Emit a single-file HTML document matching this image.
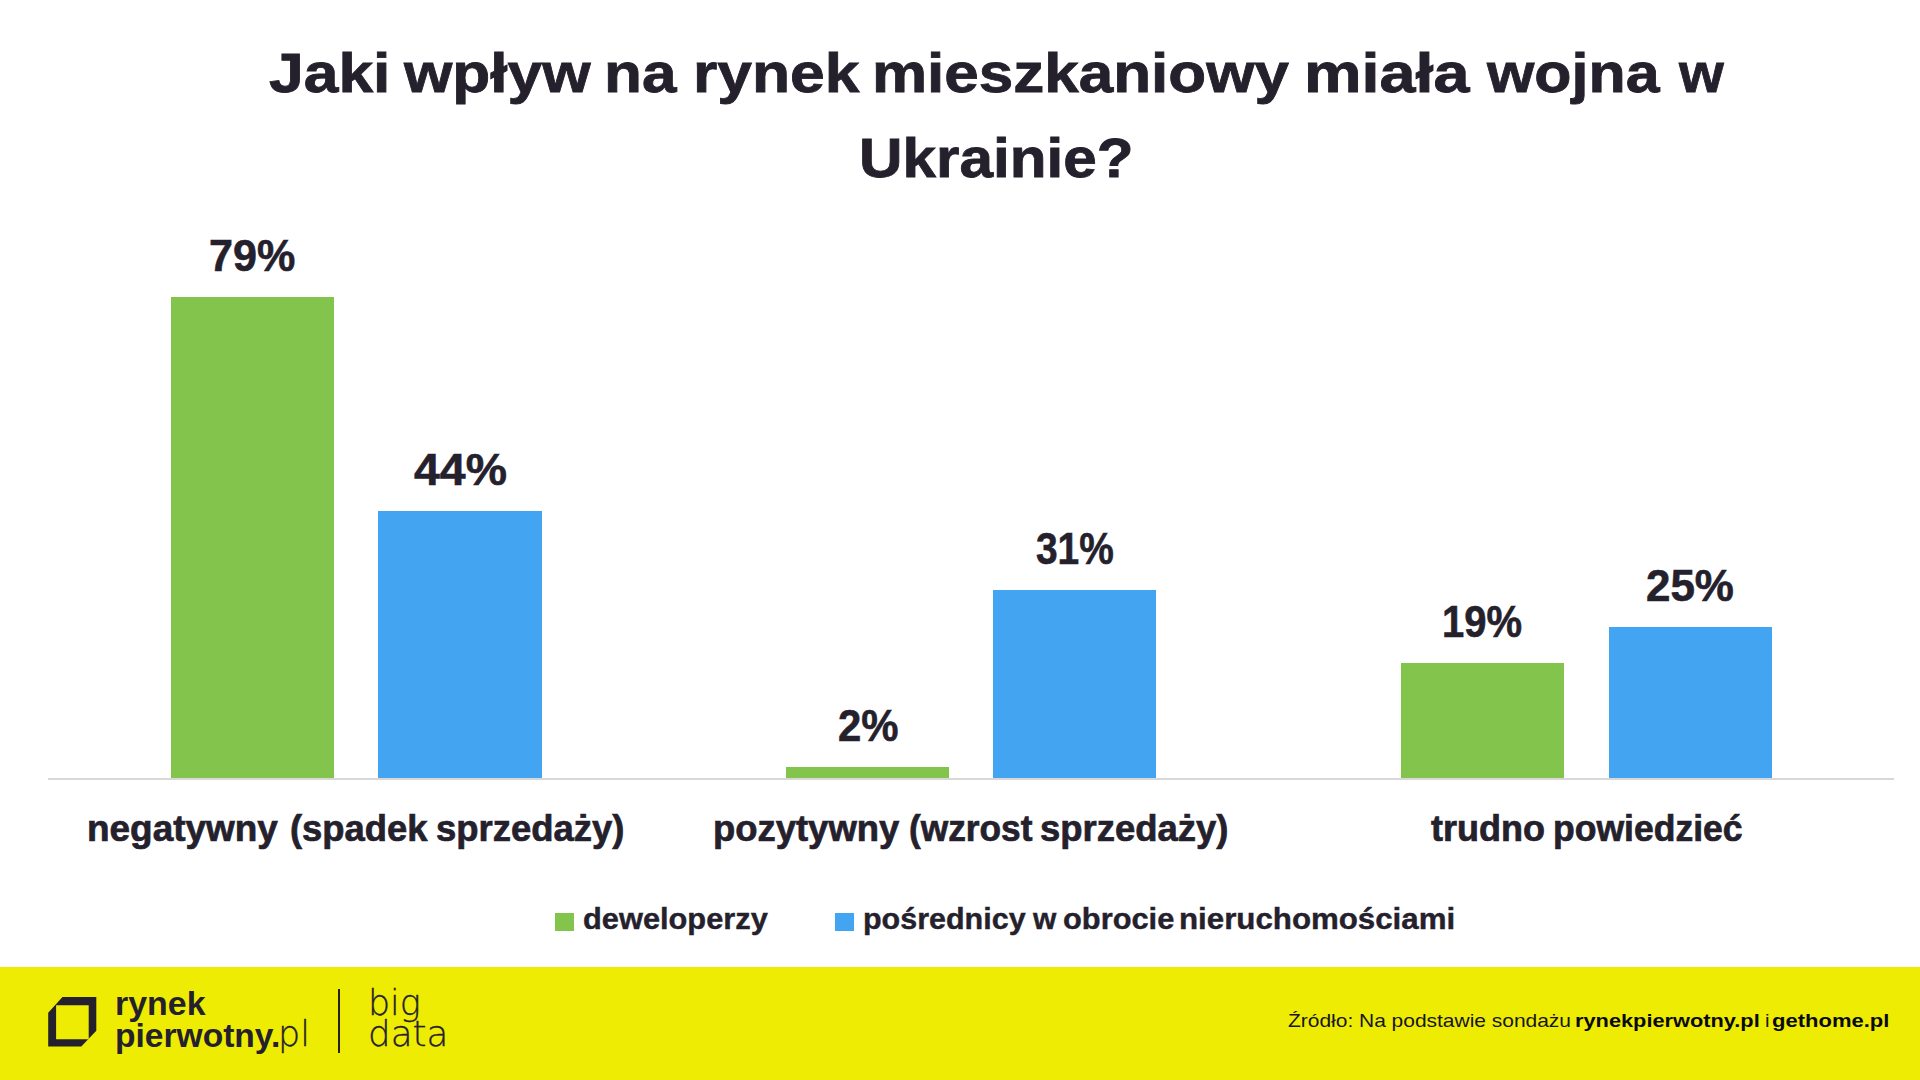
<!DOCTYPE html>
<html lang="pl">
<head>
<meta charset="utf-8">
<title>Jaki wpływ na rynek mieszkaniowy miała wojna w Ukrainie?</title>
<style>
html,body{margin:0;padding:0;}
body{width:1920px;height:1080px;overflow:hidden;background:#fff;position:relative;
  font-family:"Liberation Sans",sans-serif;color:#24212d;}
h1{margin:0;padding:0;font-size:inherit;font-weight:inherit;}
.B{font-weight:bold;}
.t{font-size:56px;-webkit-text-stroke:0.8px #24212d;}
.bar{position:absolute;}
.g{background:#83c44d;}
.b{background:#43a4f1;}
.v{font-size:45px;-webkit-text-stroke:0.6px #24212d;}
.c{font-size:37px;-webkit-text-stroke:0.7px #24212d;}
.l{font-size:29px;-webkit-text-stroke:0.4px #24212d;}
#axis{position:absolute;left:48px;top:777.7px;width:1846px;height:2.1px;background:#d8d8db;}
#foot{position:absolute;left:0;top:966.5px;width:1920px;height:114px;background:#efec04;}

.f{position:absolute;white-space:nowrap;line-height:1;transform-origin:0 50%;transform:scaleX(var(--s,1));color:#24212d;}
.lg{font-weight:bold;font-size:34px;}
.thin{font-family:"DejaVu Sans Light","DejaVu Sans",sans-serif;font-weight:200;-webkit-text-stroke:0.3px #24212d;}
.src{font-size:18.5px;color:#16161f;}
</style>
</head>
<body>
<h1>
<span class="f B t" id="w1" style="left:268.9px;top:45.4px;--s:1.1143">Jaki</span>
<span class="f B t" id="w2" style="left:404.2px;top:45.4px;--s:1.1102">wpływ</span>
<span class="f B t" id="w3" style="left:603.7px;top:45.4px;--s:1.1085">na</span>
<span class="f B t" id="w4" style="left:692.9px;top:45.4px;--s:1.1139">rynek</span>
<span class="f B t" id="w5" style="left:871.7px;top:45.4px;--s:1.1070">mieszkaniowy</span>
<span class="f B t" id="w6" style="left:1303.5px;top:45.4px;--s:1.1560">miała</span>
<span class="f B t" id="w7" style="left:1486.7px;top:45.4px;--s:1.0870">wojna</span>
<span class="f B t" id="w8" style="left:1679.2px;top:45.4px;--s:1.0280">w</span>
<span class="f B t" id="t2" style="left:859.3px;top:129.5px;--s:1.0759">Ukrainie?</span>
</h1>

<div class="bar g" style="left:171px;top:296.5px;width:163px;height:481px"></div>
<div class="bar b" style="left:378.2px;top:510.5px;width:163.4px;height:267px"></div>
<div class="bar g" style="left:786px;top:766.5px;width:163px;height:11px"></div>
<div class="bar b" style="left:993.3px;top:589.5px;width:163px;height:188px"></div>
<div class="bar g" style="left:1401px;top:662.5px;width:163.2px;height:115px"></div>
<div class="bar b" style="left:1608.5px;top:626.5px;width:163.3px;height:151px"></div>
<div id="axis"></div>

<div class="f B v" id="v1" style="left:209.1px;top:233.0px;--s:0.9580">79%</div>
<div class="f B v" id="v2" style="left:414.2px;top:446.8px;--s:1.0317">44%</div>
<div class="f B v" id="v3" style="left:837.9px;top:703.0px;--s:0.9306">2%</div>
<div class="f B v" id="v4" style="left:1036.3px;top:526.0px;--s:0.8639">31%</div>
<div class="f B v" id="v5" style="left:1442.2px;top:599.2px;--s:0.8889">19%</div>
<div class="f B v" id="v6" style="left:1646.3px;top:562.8px;--s:0.9764">25%</div>

<div>
<span class="f B c" id="c1a" style="left:87.0px;top:810.3px;--s:0.9981">negatywny</span>
<span class="f B c" id="c1b" style="left:290.3px;top:810.3px;--s:0.9831">(spadek</span>
<span class="f B c" id="c1c" style="left:436.1px;top:810.3px;--s:0.9855">sprzedaży)</span>
</div>
<div>
<span class="f B c" id="c2a" style="left:712.5px;top:810.3px;--s:0.9847">pozytywny</span>
<span class="f B c" id="c2b" style="left:908.5px;top:810.3px;--s:0.9535">(wzrost</span>
<span class="f B c" id="c2c" style="left:1040.3px;top:810.3px;--s:0.9852">sprzedaży)</span>
</div>
<div>
<span class="f B c" id="c3a" style="left:1430.9px;top:810.3px;--s:0.9728">trudno</span>
<span class="f B c" id="c3b" style="left:1552.9px;top:810.3px;--s:0.9605">powiedzieć</span>
</div>

<div class="bar g" style="left:555px;top:912.5px;width:18.6px;height:18.4px"></div>
<div class="f B l" id="l1" style="left:582.7px;top:904.8px;--s:1.0618">deweloperzy</div>
<div class="bar b" style="left:835px;top:912.5px;width:18.8px;height:18.4px"></div>
<div>
<span class="f B l" id="l2a" style="left:862.7px;top:904.8px;--s:1.0509">pośrednicy</span>
<span class="f B l" id="l2b" style="left:1032.9px;top:904.8px;--s:1.0344">w</span>
<span class="f B l" id="l2c" style="left:1062.5px;top:904.8px;--s:1.0629">obrocie</span>
<span class="f B l" id="l2d" style="left:1178.9px;top:904.8px;--s:1.0777">nieruchomościami</span>
</div>

<div id="foot"></div>
<svg id="logo" style="position:absolute;left:48px;top:996px" width="50" height="52" viewBox="48 996 50 52">
  <path fill="#24212d" fill-rule="evenodd" d="M62.5 997 H96.3 V1030.8 L81.3 1046.5 H48.2 V1012.7 Z M56.1 1005.2 V1039.2 H88.7 V1005.2 Z"/>
</svg>
<div class="f lg" id="lg1" style="left:115.2px;top:986px;--s:0.9980">rynek</div>
<div class="f lg" id="lg2" style="left:115.2px;top:1017.5px;--s:0.9871">pierwotny.</div>
<div class="f thin" id="lg3" style="left:278.4px;top:1016.9px;font-size:35px;--s:0.9978">pl</div>
<div id="divider" style="position:absolute;left:338px;top:988.7px;width:2px;height:64.8px;background:#24212d"></div>
<div class="f thin" id="bd1" style="left:367.8px;top:985.7px;font-size:35px;--s:0.9948">big</div>
<div class="f thin" id="bd2" style="left:367.5px;top:1017.1px;font-size:35px;--s:1.0200">data</div>
<div class="f src" id="s1" style="left:1288.0px;top:1012.4px;--s:1.1324">Źródło: Na podstawie sondażu</div>
<div class="f src" id="s2" style="left:1575.4px;top:1012.4px;--s:1.1768;font-weight:bold;color:#0a0a0a">rynekpierwotny.pl</div>
<div class="f src" id="s3" style="left:1764.5px;top:1012.4px;--s:1.1000">i</div>
<div class="f src" id="s4" style="left:1772.4px;top:1012.4px;--s:1.1896;font-weight:bold;color:#0a0a0a">gethome.pl</div>
</body>
</html>
